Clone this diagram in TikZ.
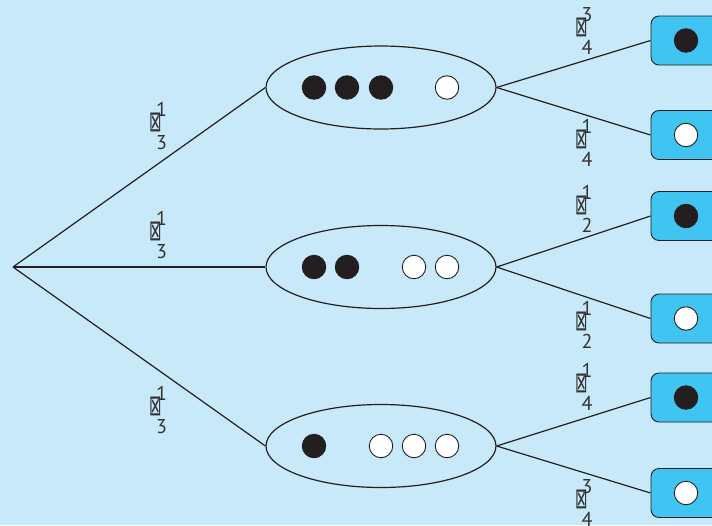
\documentclass[tikz,border=0pt]{standalone}
\usepackage{fontspec}
\setmainfont{PT Sans}
\newfontfamily\symfont{DejaVu Sans}
\usetikzlibrary{positioning,shapes.geometric,calc}
\definecolor{Sky}{HTML}{C7E9F9}
\definecolor{Cyan}{HTML}{40C4F1}
\definecolor{Ink}{HTML}{231F20}
\definecolor{Grey}{HTML}{333333}
\newcommand{\nobar}{\resizebox{12.5pt}{18.5pt}{\symfont ⊠}}
\tikzset{
 bag/.style={ellipse,draw=Ink,line width=1.2pt,minimum width=230pt,minimum height=83pt,inner sep=0pt},
 ball/.style={circle,draw=Ink,line width=0.9pt,fill=Ink,minimum size=23.5pt,inner sep=0pt},
 white ball/.style={ball,fill=white},
 outcome/.style={draw=Ink,line width=0.9pt,fill=Cyan,rounded corners=8pt,minimum width=70pt,minimum height=49pt,inner sep=0pt},
 branch/.style={draw=Ink,line width=1.2pt},
 bar/.style={text=Grey,inner sep=0pt,xshift=-5.5pt,yshift=3.5pt},
 prob/.style={text=Grey,font=\fontsize{20}{33}\selectfont,align=center,inner sep=0pt,label={[bar]center:\nobar}}
}

\begin{document}
\begin{tikzpicture}[x=1pt,y=-1pt]
\fill[Sky] (0,0) rectangle (712,525);
\clip (0,0) rectangle (712,525);
\coordinate (root) at (13,267);
\node[bag] (top) at (381,87.5) {};
\node[bag] (mid) at (381,267) {};
\node[bag] (low) at (381,446) {};
% balls in the three bags
\foreach \x [count=\i] in {314,347,381} \node[ball] (t\i) at (\x,87.5) {};
\node[white ball] (t4) at (447,87.5) {};
\foreach \x [count=\i] in {314,347} \node[ball] (m\i) at (\x,267) {};
\foreach \x [count=\i from 3] in {414,447} \node[white ball] (m\i) at (\x,267) {};
\node[ball] (l1) at (314,446) {};
\foreach \x [count=\i from 2] in {381,414,447} \node[white ball] (l\i) at (\x,446) {};
% drawn ball
\foreach \n/\y in {o1/40.5,o2/135,o3/216,o4/318.5,o5/397.5,o6/493} \node[outcome] (\n) at (686,\y) {};
\foreach \n/\s in {o1/ball,o2/white ball,o3/ball,o4/white ball,o5/ball,o6/white ball} \node[\s] (\n c) at (\n) {};
\foreach \x/\y in {root/top.west,root/mid.west,root/low.west,top.east/o1.west,top.east/o2.west,mid.east/o3.west,mid.east/o4.west,low.east/o5.west,low.east/o6.west} \draw[branch] (\x)--(\y);
% probabilities
\node[prob] (p1) at (161.5,125.5) {1\\3};
\node[prob] (p2) at (161.5,234.5) {1\\3};
\node[prob] (p3) at (161.5,409.5) {1\\3};
\node[prob] (q1) at (587,31) {3\\4};
\node[prob] (q2) at (587,143) {1\\4};
\node[prob] (q3) at (587,208.5) {1\\2};
\node[prob] (q4) at (587,324.5) {1\\2};
\node[prob] (q5) at (587,387) {1\\4};
\node[prob] (q6) at (587,502.5) {3\\4};
\end{tikzpicture}
\end{document}
